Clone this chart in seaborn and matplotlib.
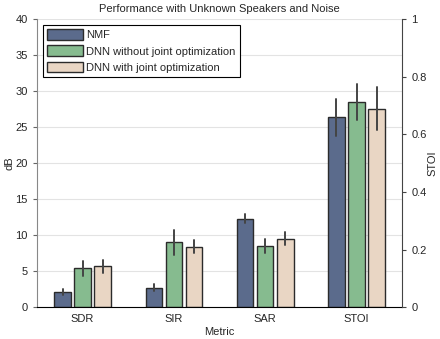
import pandas as pd
import seaborn as sns
import matplotlib.pyplot as plt

# Values (SDR/SIR/SAR in dB, STOI on 0-1 scale)
metrics = ['SDR', 'SIR', 'SAR', 'STOI']
methods = ['NMF', 'DNN without joint optimization', 'DNN with joint optimization']
nmf = [2.1, 2.7, 12.3, 0.660]
dnn_no_joint = [5.4, 9.0, 8.5, 0.712]
dnn_joint = [5.65, 8.4, 9.5, 0.690]
nmf_err = [0.45, 0.45, 0.6, 0.064]
dnn_no_joint_err = [1.05, 1.7, 0.95, 0.062]
dnn_joint_err = [0.85, 0.9, 0.9, 0.076]

colors = ['#5b6b8c', '#86bb8f', '#e9d6c4']
stoi_scale = 40  # STOI (0-1) is drawn against the dB axis (0-40)

# Build long-form table; STOI is rescaled so it shares the dB axis
rows = []
for name, vals, errs in zip(methods, [nmf, dnn_no_joint, dnn_joint],
                            [nmf_err, dnn_no_joint_err, dnn_joint_err]):
    for m, v, e in zip(metrics, vals, errs):
        k = stoi_scale if m == 'STOI' else 1
        rows.append({'Metric': m, 'Method': name, 'value': v * k, 'err': e * k})
data = pd.DataFrame(rows)

sns.set_style('white')
plt.rcParams['font.family'] = ['Liberation Sans', 'DejaVu Sans']

fig = plt.figure(figsize=(4.4, 3.39), dpi=100)
ax = fig.add_axes([0.084, 0.094, 0.83, 0.849])

sns.barplot(data=data, x='Metric', y='value', hue='Method', order=metrics,
            hue_order=methods, palette=colors, width=0.66, gap=0.18,
            errorbar=None, edgecolor='#2b2b2b', linewidth=1.0, saturation=1,
            zorder=2, ax=ax)

# Error bars at each bar's center
for cont, name in zip(ax.containers, methods):
    sub = data[data['Method'] == name].set_index('Metric').loc[metrics]
    for bar, v, e in zip(cont, sub['value'], sub['err']):
        x = bar.get_x() + bar.get_width() / 2
        ax.plot([x, x], [v - e, v + e], color='#444444', lw=1.4, zorder=3)

ax.set_xlim(-0.5, 3.5)
ax.set_ylim(0, 40)
ax.set_yticks(range(0, 41, 5))
ax.yaxis.grid(True, color='#e3e3e3', lw=0.8, zorder=0)
ax.set_axisbelow(True)
ax.set_xlabel('Metric', fontsize=8, labelpad=2)
ax.set_ylabel('dB', fontsize=8, labelpad=1)
ax.set_title('Performance with Unknown Speakers and Noise', fontsize=8, pad=5)
ax.tick_params(axis='x', length=0, labelsize=8, pad=5)
ax.tick_params(axis='y', length=3, color='#666666', labelsize=8, left=True)
for s in ['top', 'right']:
    ax.spines[s].set_visible(False)
ax.spines['left'].set_color('#888888')
ax.spines['bottom'].set_color('black')

ax2 = ax.twinx()
ax2.set_ylim(0, 1)
ax2.set_yticks([0, 0.2, 0.4, 0.6, 0.8, 1])
ax2.set_yticklabels(['0', '0.2', '0.4', '0.6', '0.8', '1'])
ax2.set_ylabel('STOI', fontsize=8, labelpad=1)
ax2.tick_params(axis='y', length=3, color='#444444', labelsize=8, right=True)
for s in ['top', 'left', 'bottom']:
    ax2.spines[s].set_visible(False)
ax2.spines['right'].set_color('#444444')

leg = ax.legend(loc='upper left', fontsize=8, fancybox=False, framealpha=1,
                edgecolor='black', handlelength=3.2, handleheight=1.1,
                borderpad=0.4, labelspacing=0.45, handletextpad=0.3,
                bbox_to_anchor=(0.0, 1.0))
leg.get_frame().set_linewidth(0.8)
leg.set_title(None)

fig.savefig('out.png', dpi=100)
